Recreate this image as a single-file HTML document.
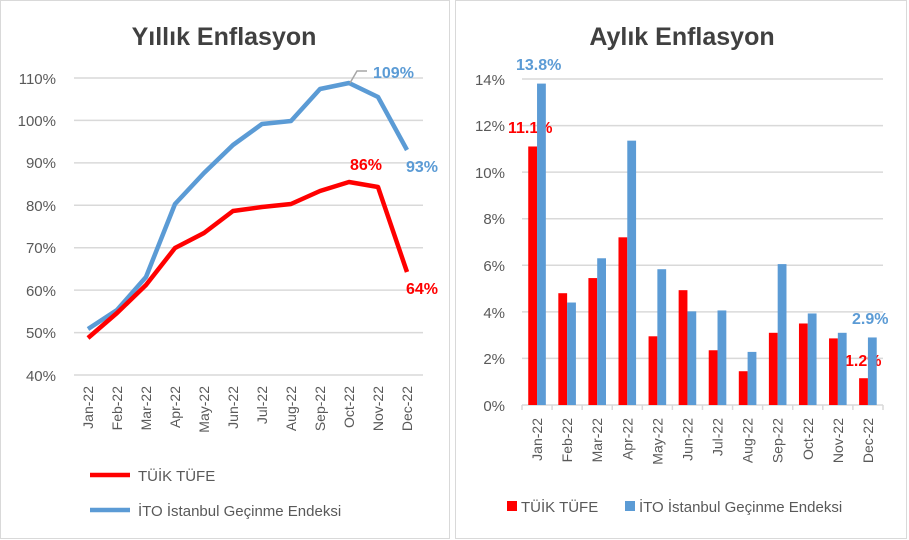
<!DOCTYPE html>
<html><head><meta charset="utf-8"><style>body{margin:0;background:#fff}svg{display:block;font-family:"Liberation Sans",sans-serif}</style></head><body>
<svg width="909" height="540" viewBox="0 0 909 540">
<rect x="0.5" y="0.5" width="449" height="538" fill="#fff" stroke="#d9d9d9"/>
<rect x="455.5" y="0.5" width="451" height="538" fill="#fff" stroke="#d9d9d9"/>
<text x="224" y="45" text-anchor="middle" font-size="25" font-weight="bold" fill="#404040">Yıllık Enflasyon</text>
<text x="682" y="45" text-anchor="middle" font-size="25" font-weight="bold" fill="#404040">Aylık Enflasyon</text>
<g stroke="#d9d9d9" stroke-width="1.5">
<line x1="74" x2="423" y1="78" y2="78"/><line x1="74" x2="423" y1="120.4" y2="120.4"/><line x1="74" x2="423" y1="162.9" y2="162.9"/><line x1="74" x2="423" y1="205.3" y2="205.3"/><line x1="74" x2="423" y1="247.7" y2="247.7"/><line x1="74" x2="423" y1="290.1" y2="290.1"/><line x1="74" x2="423" y1="332.6" y2="332.6"/><line x1="74" x2="423" y1="375" y2="375"/>
<line x1="522" x2="883" y1="79" y2="79"/><line x1="522" x2="883" y1="125.6" y2="125.6"/><line x1="522" x2="883" y1="172.1" y2="172.1"/><line x1="522" x2="883" y1="218.7" y2="218.7"/><line x1="522" x2="883" y1="265.3" y2="265.3"/><line x1="522" x2="883" y1="311.9" y2="311.9"/><line x1="522" x2="883" y1="358.4" y2="358.4"/><line x1="522" x2="883" y1="405" y2="405"/>
</g>
<g font-size="15" fill="#595959" text-anchor="end">
<text x="56" y="84">110%</text><text x="56" y="126">100%</text><text x="56" y="168">90%</text><text x="56" y="211">80%</text><text x="56" y="253">70%</text><text x="56" y="296">60%</text><text x="56" y="338">50%</text><text x="56" y="381">40%</text>
<text x="505" y="85">14%</text><text x="505" y="131">12%</text><text x="505" y="178">10%</text><text x="505" y="224">8%</text><text x="505" y="271">6%</text><text x="505" y="318">4%</text><text x="505" y="364">2%</text><text x="505" y="411">0%</text>
</g>
<polyline fill="none" stroke="#5b9bd5" stroke-width="4.5" stroke-linejoin="round" points="88,329 117,310 146,277 175,204 204,173 233,145 262,124 291,121 320,89 349,83 378,97 407,150"/>
<polyline fill="none" stroke="#ff0000" stroke-width="4.5" stroke-linejoin="round" points="88,338 117,313 146,285 175,248 204,233 233,211 262,207 291,204 320,191 349,182 378,187 407,272"/>
<polyline fill="none" stroke="#a6a6a6" stroke-width="1.5" points="350,83 357,71 367,71"/>
<g font-size="16" font-weight="bold">
<text x="373" y="78" fill="#5b9bd5">109%</text><text x="406" y="172" fill="#5b9bd5">93%</text>
<text x="350" y="170" fill="#ff0000">86%</text><text x="406" y="294" fill="#ff0000">64%</text>
<text x="516" y="70" fill="#5b9bd5">13.8%</text><text x="508" y="133" fill="#ff0000">11.1%</text>
<text x="852" y="324" fill="#5b9bd5">2.9%</text><text x="845" y="366" fill="#ff0000">1.2%</text>
</g>
<g id="bars"></g>
<g stroke="#d9d9d9" stroke-width="1.5" id="ticks"></g>
<g font-size="14" fill="#595959" id="xl"></g>
<line x1="90" x2="130" y1="475" y2="475" stroke="#ff0000" stroke-width="4.5"/>
<line x1="90" x2="130" y1="510" y2="510" stroke="#5b9bd5" stroke-width="4.5"/>
<text x="138" y="481" font-size="15" fill="#595959">TÜİK TÜFE</text>
<text x="138" y="516" font-size="15" fill="#595959">İTO İstanbul Geçinme Endeksi</text>
<rect x="507" y="501" width="10" height="10" fill="#ff0000"/>
<text x="521" y="512" font-size="15" fill="#595959">TÜİK TÜFE</text>
<rect x="625" y="501" width="10" height="10" fill="#5b9bd5"/>
<text x="639" y="512" font-size="15" fill="#595959">İTO İstanbul Geçinme Endeksi</text>
<script>
var m=["Jan-22","Feb-22","Mar-22","Apr-22","May-22","Jun-22","Jul-22","Aug-22","Sep-22","Oct-22","Nov-22","Dec-22"];
var r=[11.1,4.8,5.45,7.2,2.95,4.93,2.35,1.45,3.1,3.5,2.86,1.15],b=[13.8,4.4,6.3,11.35,5.83,4.02,4.06,2.28,6.05,3.93,3.1,2.9];
var ns="http://www.w3.org/2000/svg";
function el(p,t,a,tx){var e=document.createElementNS(ns,t);for(var k in a)e.setAttribute(k,a[k]);if(tx)e.textContent=tx;document.getElementById(p).appendChild(e);}
var w=30.08,s=23.29;
for(var i=0;i<12;i++){var c=522+w*(i+.5);
el("bars","rect",{x:c-8.8,y:405-r[i]*s,width:8.8,height:r[i]*s,fill:"#ff0000"});
el("bars","rect",{x:c,y:405-b[i]*s,width:8.8,height:b[i]*s,fill:"#5b9bd5"});
el("ticks","line",{x1:522+w*i,x2:522+w*i,y1:405,y2:410});
var x1=88+29*i;
el("xl","text",{x:0,y:0,transform:"translate("+(x1+5)+",386) rotate(-90)","text-anchor":"end"},m[i]);
el("xl","text",{x:0,y:0,transform:"translate("+(c+5)+",418) rotate(-90)","text-anchor":"end"},m[i]);}
el("ticks","line",{x1:883,x2:883,y1:405,y2:410});
</script>
</svg>
</body></html>
